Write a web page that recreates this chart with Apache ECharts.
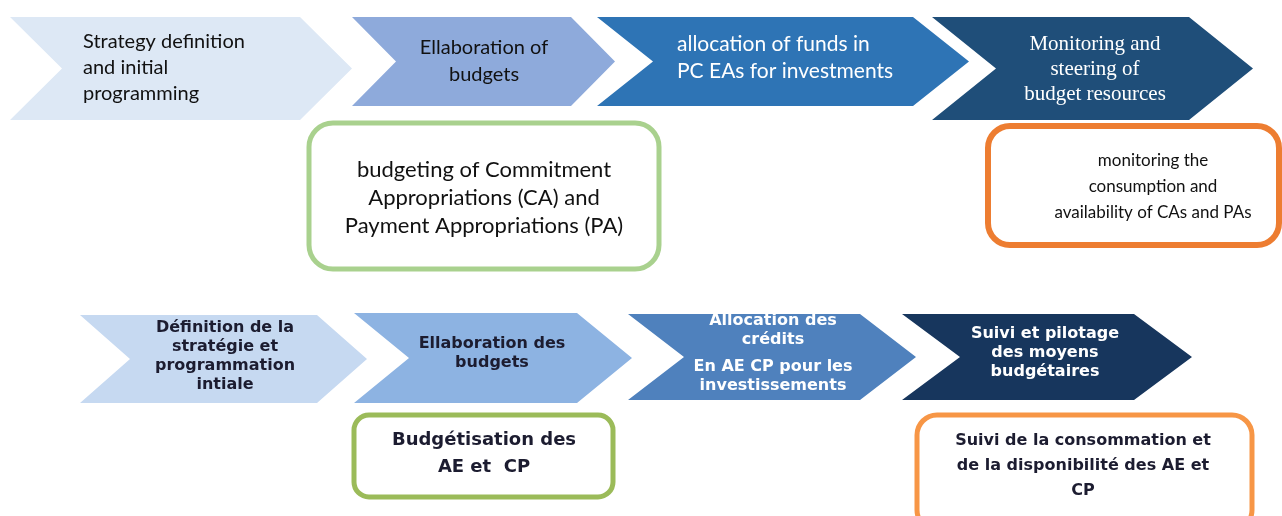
<!DOCTYPE html>
<html>
<head>
<meta charset="utf-8">
<script src="https://cdn.jsdelivr.net/npm/echarts@6/dist/echarts.min.js"></script>
<style>
  html, body { margin: 0; padding: 0; background: #fff; }
  #chart { width: 1282px; height: 516px; }
</style>
</head>
<body>
<div id="chart"></div>
<script>
  // step labels (top row english, bottom row french)
  var stepsEn = [
    'Strategy definition\nand initial\nprogramming',
    'Ellaboration of\nbudgets',
    'allocation of funds in\nPC EAs for investments',
    'Monitoring and\nsteering of\nbudget resources'
  ]
  var stepsFr = [
    'Définition de la\nstratégie et\nprogrammation\nintiale',
    'Ellaboration des\nbudgets',
    'Allocation des\ncrédits\n\nEn AE CP pour les\ninvestissements',
    'Suivi et pilotage\ndes moyens\nbudgétaires'
  ]
  var notesEn = [
    'budgeting of Commitment\nAppropriations (CA) and\nPayment Appropriations (PA)',
    'monitoring the\nconsumption and\navailability of CAs and PAs'
  ]
  var notesFr = [
    'Budgétisation des\nAE et  CP',
    'Suivi de la consommation et\nde la disponibilité des AE et\nCP'
  ]

  // layout, in page pixels (x0,x1 = left/tip, y0,y1 = top/bottom, d = arrow depth)
  var topShapes = [
    {x0: 10, x1: 352, y0: 17, y1: 120, d: 52, color: '#dde8f5', text: '#111', tx: 83, ty: 68, align: 'left', size: 20, lh: 26, font: 'Lato', weight: 'normal'},
    {x0: 352, x1: 615, y0: 17, y1: 106, d: 44, color: '#8eaadb', text: '#111', tx: 484, ty: 61, align: 'center', size: 20, lh: 27, font: 'Lato', weight: 'normal'},
    {x0: 597, x1: 969, y0: 17, y1: 106, d: 56, color: '#2e74b5', text: '#fff', tx: 677, ty: 58, align: 'left', size: 21, lh: 27, font: 'Lato', weight: 'normal'},
    {x0: 932, x1: 1253, y0: 17, y1: 120, d: 64, color: '#1f4e79', text: '#fff', tx: 1095, ty: 69, align: 'center', size: 21, lh: 25, font: 'Liberation Serif', weight: 'normal'}
  ]
  var bottomShapes = [
    {x0: 80, x1: 367, y0: 315, y1: 403, d: 50, color: '#c6d9f1', text: '#1c1c30', tx: 225, ty: 356, align: 'center', size: 16, lh: 19, font: 'DejaVu Sans', weight: 'bold'},
    {x0: 354, x1: 632, y0: 313, y1: 403, d: 55, color: '#8db3e2', text: '#1c1c30', tx: 492, ty: 353, align: 'center', size: 16, lh: 19, font: 'DejaVu Sans', weight: 'bold'},
    {x0: 628, x1: 916, y0: 314, y1: 400, d: 56, color: '#4f81bd', text: '#fff', tx: 773, ty: 353, align: 'center', size: 16, lh: 19, font: 'DejaVu Sans', weight: 'bold'},
    {x0: 902, x1: 1192, y0: 314, y1: 400, d: 58, color: '#17365d', text: '#fff', tx: 1045, ty: 353, align: 'center', size: 16, lh: 19, font: 'DejaVu Sans', weight: 'bold'}
  ]
  var noteBoxes = [
    {x0: 309, y0: 123, x1: 659, y1: 269, r: 24, lw: 5, color: '#a9d18e', tx: 484, ty: 198, size: 22, lh: 28, font: 'Lato', weight: 'normal', text: '#111'},
    {x0: 988, y0: 126, x1: 1279, y1: 245, r: 22, lw: 6, color: '#ed7d31', tx: 1153, ty: 187, size: 17, lh: 26, font: 'Lato', weight: 'normal', text: '#111'},
    {x0: 354, y0: 415, x1: 613, y1: 497, r: 15, lw: 5, color: '#9bbb59', tx: 484, ty: 454, size: 18, lh: 27, font: 'DejaVu Sans', weight: 'bold', text: '#1c1c30'},
    {x0: 917, y0: 415, x1: 1252, y1: 530, r: 20, lw: 5, color: '#f79646', tx: 1083, ty: 466, size: 16, lh: 25, font: 'DejaVu Sans', weight: 'bold', text: '#1c1c30'}
  ]

  function richText(label, s) {
    var lines = label.split('\n').map(function (l) {
      return l ? '{t|' + l + '}' : '{g|\u200b}'
    })
    return {
      text: lines.join('\n'),
      rich: {
        t: {fontSize: s.size, lineHeight: s.lh, fontFamily: s.font, fontWeight: s.weight, fill: s.text, align: s.align || 'center'},
        g: {fontSize: 4, lineHeight: 8}
      }
    }
  }

  function textEl(api, label, s) {
    var p = api.coord([s.tx, s.ty])
    var rt = richText(label, s)
    return {
      type: 'text',
      x: p[0],
      y: p[1],
      style: {
        text: rt.text,
        rich: rt.rich,
        fill: s.text,
        align: s.align || 'center',
        verticalAlign: 'middle'
      }
    }
  }

  function chevronItem(shapes, labels) {
    return function (params, api) {
      var s = shapes[params.dataIndex]
      var ym = (s.y0 + s.y1) / 2
      var pts = [
        [s.x0, s.y0], [s.x1 - s.d, s.y0], [s.x1, ym], [s.x1 - s.d, s.y1],
        [s.x0, s.y1], [s.x0 + s.d, ym]
      ].map(function (q) { return api.coord(q) })
      return {
        type: 'group',
        children: [
          {type: 'polygon', shape: {points: pts}, style: {fill: s.color}},
          textEl(api, labels[params.dataIndex], s)
        ]
      }
    }
  }

  var notes = notesEn.concat(notesFr)

  function noteItem(params, api) {
    var b = noteBoxes[params.dataIndex]
    var a = api.coord([b.x0, b.y0])
    var c = api.coord([b.x1, b.y1])
    return {
      type: 'group',
      children: [
        {
          type: 'rect',
          shape: {x: a[0], y: a[1], width: c[0] - a[0], height: c[1] - a[1], r: b.r},
          style: {fill: '#fff', stroke: b.color, lineWidth: b.lw}
        },
        textEl(api, notes[params.dataIndex], b)
      ]
    }
  }

  var chart = echarts.init(document.getElementById('chart'))
  chart.setOption({
    animation: false,
    grid: {left: 0, right: 0, top: 0, bottom: 0},
    xAxis: {type: 'value', min: 0, max: 1282, show: false},
    yAxis: {type: 'value', min: 0, max: 516, inverse: true, show: false},
    series: [
      {
        type: 'custom',
        renderItem: chevronItem(topShapes, stepsEn),
        data: stepsEn.map(function (t, i) { return {name: t, value: [i, 0]} })
      },
      {
        type: 'custom',
        renderItem: chevronItem(bottomShapes, stepsFr),
        data: stepsFr.map(function (t, i) { return {name: t, value: [i, 0]} })
      },
      {
        type: 'custom',
        renderItem: noteItem,
        data: notes.map(function (t, i) { return {name: t, value: [i, 0]} })
      }
    ]
  })
</script>
</body>
</html>
